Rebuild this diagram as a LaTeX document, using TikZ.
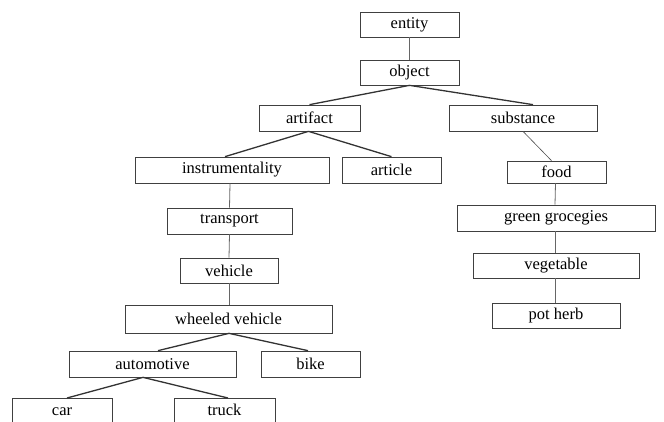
\documentclass[tikz,border=0pt]{standalone}
\usepackage{fontspec}
\setmainfont{Liberation Serif}
\newfontfamily\tms{Liberation Serif}
\begin{document}
\begin{tikzpicture}[x=1pt,y=-1pt,
  lbl/.style={font=\tms\fontsize{16.5}{18}\selectfont},
  box/.style={lbl,draw=black!75,line width=0.7pt,inner sep=0pt,minimum height=26pt},
  vline/.style={draw=black!60,line width=0.8pt},
  dline/.style={draw=black!80,line width=1.3pt},
  tline/.style={draw=black!70,line width=0.6pt}]
\useasboundingbox (0,0) rectangle (664,421);
\node[box,minimum width=99pt,minimum height=25pt] (entity) at (409.5,24.5) {entity};
\node[box,minimum width=99pt,minimum height=25pt] (object) at (409.5,72.5) {object};
\node[box,minimum width=101pt] (artifact) at (309.5,118) {artifact};
\node[box,minimum width=148pt] (substance) at (523,118) {substance};
\node[box,minimum width=194pt] (instr) at (232,170) {instrumentality};
\node[box,minimum width=99pt] (article) at (391.5,170) {article};
\node[box,minimum width=99pt,minimum height=22pt] (food) at (556.5,172) {food};
\node[box,minimum width=125pt] (transport) at (229.5,221) {transport};
\node[box,minimum width=198pt] (green) at (556,218) {green grocegies};
\node[box,minimum width=98pt,minimum height=25pt] (vehicle) at (229,270.5) {vehicle};
\node[box,minimum width=166pt,minimum height=25pt] (vegetable) at (556,265.5) {vegetable};
\node[box,minimum width=207pt,minimum height=28pt] (wheeled) at (228.5,319) {wheeled vehicle};
\node[box,minimum width=128pt,minimum height=25pt] (potherb) at (556,315.5) {pot herb};
\node[box,minimum width=167pt] (auto) at (152.5,364) {automotive};
\node[box,minimum width=99pt] (bike) at (310.5,364) {bike};
\node[box,minimum width=100pt,minimum height=26pt,anchor=north] (car) at (62,398) {};
\node[lbl,anchor=base] (cartext) at (62,415) {car};
\node[box,minimum width=101pt,minimum height=26pt,anchor=north] (truck) at (224.5,398) {};
\node[lbl,anchor=base] (trucktext) at (224.5,415) {truck};
% connectors
\draw[vline] (entity.south) -- (object.north);
\draw[dline] (object.south) -- (artifact.north);
\draw[dline] (object.south) -- ([xshift=10pt]substance.north);
\draw[dline] ([xshift=-1pt]artifact.south) -- ([xshift=-7pt]instr.north);
\draw[dline] ([xshift=-1pt]artifact.south) -- (article.north);
\draw[tline] (substance.south) -- ([xshift=-5pt]food.north);
\draw[vline] ([xshift=-2pt]instr.south) -- (transport.north);
\draw[vline] (transport.south) -- (vehicle.north);
\draw[vline] (vehicle.south) -- ([xshift=0.5pt]wheeled.north);
\draw[dline] ([xshift=0.5pt]wheeled.south) -- ([xshift=5.5pt]auto.north);
\draw[dline] ([xshift=0.5pt]wheeled.south) -- ([xshift=-2.5pt]bike.north);
\draw[dline] ([xshift=-9.5pt]auto.south) -- ([xshift=5pt]car.north);
\draw[dline] ([xshift=-9.5pt]auto.south) -- ([xshift=3.5pt]truck.north);
\draw[vline] ([xshift=-1pt]food.south) -- ([xshift=-1pt]green.north);
\draw[vline] ([xshift=-1pt]green.south) -- ([xshift=-1pt]vegetable.north);
\draw[vline] ([xshift=-1pt]vegetable.south) -- ([xshift=-1pt]potherb.north);
\end{tikzpicture}
\end{document}
